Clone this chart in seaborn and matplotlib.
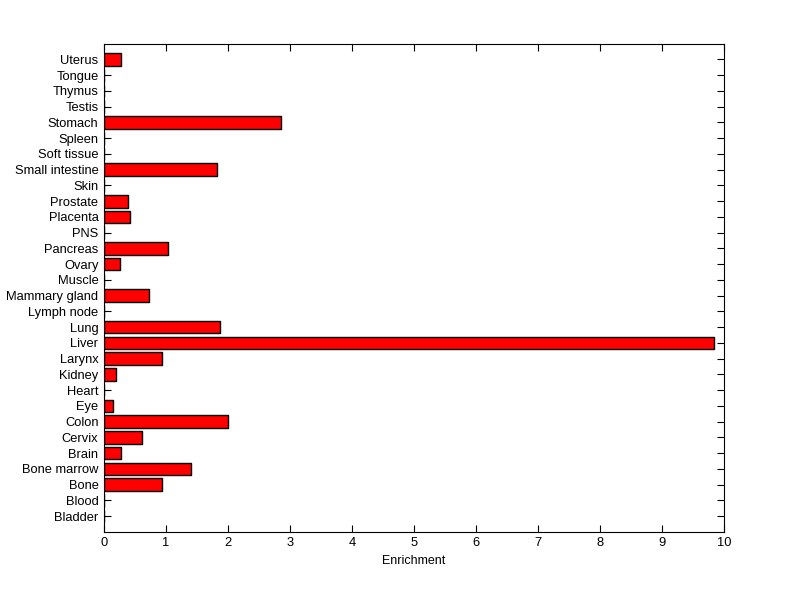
import pandas as pd
import seaborn as sns
import matplotlib.pyplot as plt

# tissues listed top to bottom as shown in the chart
tissues = ['Uterus', 'Tongue', 'Thymus', 'Testis', 'Stomach', 'Spleen', 'Soft tissue',
           'Small intestine', 'Skin', 'Prostate', 'Placenta', 'PNS', 'Pancreas', 'Ovary',
           'Muscle', 'Mammary gland', 'Lymph node', 'Lung', 'Liver', 'Larynx', 'Kidney',
           'Heart', 'Eye', 'Colon', 'Cervix', 'Brain', 'Bone marrow', 'Bone', 'Blood', 'Bladder']
enrichment = [0.28, 0, 0, 0, 2.85, 0, 0,
              1.82, 0, 0.38, 0.42, 0, 1.04, 0.26,
              0, 0.73, 0, 1.87, 9.84, 0.94, 0.19,
              0, 0.15, 2.0, 0.62, 0.28, 1.40, 0.94, 0, 0]
x_ticks = list(range(0, 11))

df = pd.DataFrame({'Tissue': tissues, 'Enrichment': enrichment})

sns.set_style('white')
plt.rcParams['font.family'] = ['Liberation Sans', 'DejaVu Sans']

fig = plt.figure(figsize=(8, 5.99), dpi=100)
ax = fig.add_axes([0.13, 0.112, 0.775, 0.815])

sns.barplot(data=df, x='Enrichment', y='Tissue', order=tissues, color='#ff0000',
            saturation=1, edgecolor='black', linewidth=1, width=0.8, ax=ax)

ax.set_xlim(0, 10)
ax.set_ylim(len(tissues), -1)
ax.set_xticks(x_ticks)
ax.set_xlabel('Enrichment', fontsize=9, color='black')
ax.set_ylabel('')
ax.tick_params(axis='both', direction='in', length=5, width=0.8, labelsize=9.3,
               colors='black', top=True, right=True, bottom=True, left=True, pad=4)
for side in ax.spines.values():
    side.set_visible(True)
    side.set_color('black')
    side.set_linewidth(0.8)

plt.savefig('out.png', dpi=100, facecolor='white')
